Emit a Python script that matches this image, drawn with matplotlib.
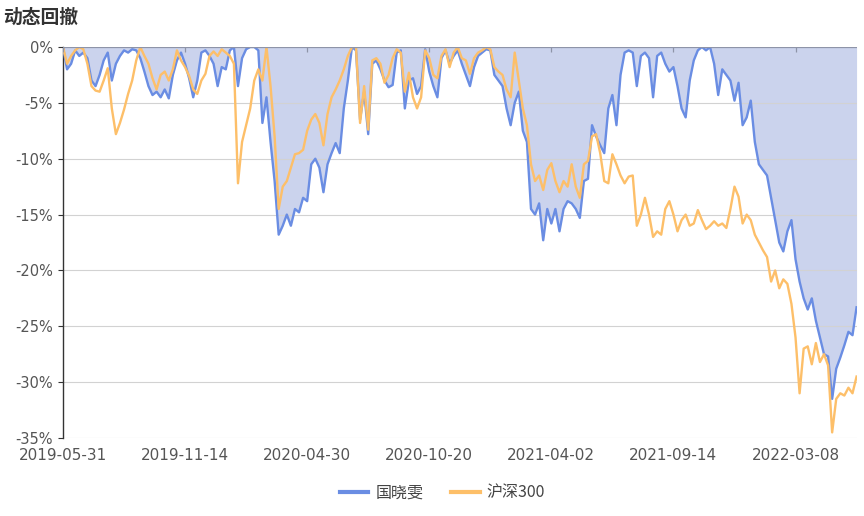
import matplotlib
matplotlib.use("Agg")
import matplotlib.pyplot as plt
from matplotlib.lines import Line2D

plt.rcParams['font.family'] = ['DejaVu Sans', 'Noto Sans CJK SC']

# drawdown in % at equal steps along the date axis
guoxiaowen = [
    0, -2.0, -1.5, -0.3, -0.8, -0.5, -1.0, -3.0, -3.5, -2.5,
    -1.2, -0.5, -3.0, -1.5, -0.8, -0.3, -0.5, -0.2, -0.3, -1.0,
    -2.2, -3.5, -4.3, -4.0, -4.5, -3.8, -4.6, -2.5, -1.2, -0.5,
    -1.5, -2.8, -4.5, -3.0, -0.5, -0.3, -0.8, -1.5, -3.5, -1.8,
    -2.0, -0.3, 0, -3.5, -1.0, -0.2, 0, 0, -0.3, -6.8,
    -4.5, -8.5, -12.0, -16.8, -16.0, -15.0, -16.0, -14.5, -14.8, -13.5,
    -13.8, -10.5, -10.0, -10.8, -13.0, -10.5, -9.5, -8.6, -9.5, -5.5,
    -3.0, 0, -0.3, -6.5, -4.0, -7.8, -1.5, -1.2, -2.0, -3.0,
    -3.6, -3.4, -0.5, -0.3, -5.5, -3.0, -2.8, -4.2, -3.5, -0.2,
    -2.2, -3.5, -4.5, -1.0, -0.3, -1.5, -0.8, -0.3, -1.5, -2.5,
    -3.5, -1.8, -0.8, -0.5, -0.2, -0.3, -2.5, -3.0, -3.5, -5.5,
    -7.0, -5.0, -4.0, -7.5, -8.5, -14.5, -15.0, -14.0, -17.3, -14.5,
    -15.8, -14.5, -16.5, -14.5, -13.8, -14.0, -14.5, -15.3, -12.0, -11.8,
    -7.0, -8.0, -8.8, -9.5, -5.5, -4.3, -7.0, -2.5, -0.5, -0.3,
    -0.5, -3.5, -0.8, -0.5, -1.0, -4.5, -0.8, -0.5, -1.5, -2.2,
    -1.8, -3.5, -5.5, -6.3, -3.0, -1.2, -0.3, 0, -0.3, 0,
    -1.5, -4.3, -2.0, -2.5, -3.0, -4.8, -3.2, -7.0, -6.3, -4.8,
    -8.5, -10.5, -11.0, -11.5, -13.5, -15.5, -17.5, -18.3, -16.5, -15.5,
    -19.0, -21.0, -22.5, -23.5, -22.5, -24.5, -26.0, -27.5, -27.7, -31.5,
    -28.8, -27.8, -26.7, -25.5, -25.8, -23.3,
]
hs300 = [
    0, -1.5, -0.8, -0.3, 0, -0.2, -1.5, -3.5, -3.9, -4.0,
    -3.0, -1.9, -5.5, -7.8, -6.8, -5.6, -4.2, -3.0, -1.2, 0,
    -0.8, -1.5, -2.8, -3.8, -2.5, -2.2, -3.0, -2.0, -0.3, -1.2,
    -1.8, -2.6, -3.8, -4.2, -3.0, -2.4, -0.8, -0.4, -0.8, -0.2,
    -0.5, -0.8, -1.5, -12.2, -8.5, -7.0, -5.5, -3.0, -2.0, -3.0,
    0, -3.5, -8.0, -14.5, -12.5, -12.0, -10.8, -9.6, -9.5, -9.2,
    -7.5, -6.5, -6.0, -6.8, -8.8, -6.0, -4.5, -3.8, -3.0, -2.0,
    -0.8, 0, 0, -6.8, -3.5, -7.4, -1.2, -1.0, -1.5, -3.2,
    -2.5, -1.0, -0.2, -0.5, -4.0, -2.3, -4.5, -5.5, -4.5, -0.3,
    -1.0, -2.5, -2.8, -0.8, -0.2, -1.8, -0.5, 0, -1.0, -1.2,
    -2.4, -1.0, -0.5, -0.3, 0, -0.2, -1.8, -2.2, -2.5, -3.8,
    -4.5, -0.5, -3.0, -5.5, -7.0, -10.5, -12.0, -11.5, -12.8, -11.0,
    -10.4, -12.0, -13.0, -12.0, -12.5, -10.5, -12.5, -13.5, -10.5, -10.2,
    -8.0, -7.8, -9.5, -12.0, -12.2, -9.6, -10.5, -11.5, -12.2, -11.6,
    -11.5, -16.0, -15.0, -13.5, -15.0, -17.0, -16.5, -16.8, -14.5, -13.8,
    -15.0, -16.5, -15.5, -15.0, -16.0, -15.8, -14.6, -15.5, -16.3, -16.0,
    -15.6, -16.0, -15.8, -16.2, -14.5, -12.5, -13.4, -15.8, -15.0, -15.5,
    -16.8, -17.5, -18.2, -18.8, -21.0, -20.0, -21.6, -20.8, -21.2, -23.0,
    -26.0, -31.0, -27.0, -26.8, -28.4, -26.5, -28.2, -27.5, -28.5, -34.5,
    -31.5, -31.0, -31.2, -30.5, -31.0, -29.5,
]
date_labels = ['2019-05-31', '2019-11-14', '2020-04-30', '2020-10-20',
               '2021-04-02', '2021-09-14', '2022-03-08']
label_step = 30

x = list(range(len(guoxiaowen)))

fig = plt.figure(figsize=(8.64, 5.16), dpi=100)
ax = fig.add_axes([0.0729, 0.1512, 0.9185, 0.7577])

ax.fill_between(x, guoxiaowen, 0, color='#5470c6', alpha=0.3, lw=0)
ax.plot(x, guoxiaowen, color='#6a8de3', lw=1.7, zorder=3)
ax.plot(x, hs300, color='#fdbf69', lw=1.7, zorder=4)

ax.set_xlim(0, len(x) - 1)
ax.set_ylim(-35, 0)

# gridlines
yt = [0, -5, -10, -15, -20, -25, -30, -35]
ax.set_yticks(yt)
ax.set_yticklabels([f'{v}%' for v in yt])
for v in yt[1:]:
    ax.axhline(v, color='#d2d2d2', lw=0.8, zorder=1)

# x axis line sits on 0 with ticks pointing down
ax.axhline(0, color='#8e94a8', lw=0.9, zorder=5)
tick_pos = [i * label_step for i in range(len(date_labels))]
for t in tick_pos:
    ax.plot([t, t], [0, -0.45], color='#8e94a8', lw=0.9, zorder=5, solid_capstyle='butt')

ax.set_xticks(tick_pos)
ax.set_xticklabels(date_labels)

for s in ['top', 'right', 'bottom']:
    ax.spines[s].set_visible(False)
ax.spines['left'].set_color('#333333')
ax.spines['left'].set_linewidth(1)

ax.tick_params(axis='x', length=0, pad=7, labelsize=11, labelcolor='#555555')
ax.tick_params(axis='y', length=3.6, width=0.8, color='#333333', pad=3.5,
               labelsize=10.5, labelcolor='#555555')

fig.text(0.004, 1 - 17 / 516, '动态回撤', family='Noto Sans CJK SC', fontsize=13.5,
         fontweight='bold', color='#333333', va='center', ha='left')

handles = [Line2D([], [], color='#6a8de3', lw=3),
           Line2D([], [], color='#fdbf69', lw=3)]
leg = fig.legend(handles, ['国晓雯', '沪深300'], loc='center', ncol=2,
                 bbox_to_anchor=(0.512, 1 - 493 / 516), frameon=False,
                 prop={'family': 'Noto Sans CJK SC', 'size': 11.5},
                 handlelength=1.8, handletextpad=0.45, columnspacing=1.7)
for t in leg.get_texts():
    t.set_color('#444444')

fig.savefig('out.png', dpi=100)
